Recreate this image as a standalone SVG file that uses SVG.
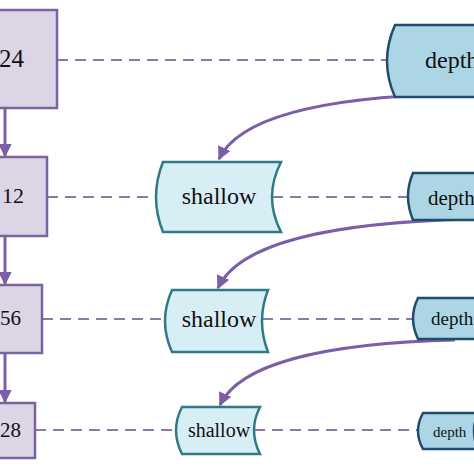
<svg xmlns="http://www.w3.org/2000/svg" width="474" height="474" viewBox="0 0 474 474">
<defs>
<style>
.box{fill:#dcd5e6;stroke:#7a64a0;stroke-width:2.5}
.sh{fill:#d8eef5;stroke:#2e7b86;stroke-width:2.5}
.dp{fill:#acd6e5;stroke:#1f4d6b;stroke-width:2.5}
.dash{stroke:#8a78a8;stroke-width:2;stroke-dasharray:11 7;fill:none}
.arr{stroke:#7b5ea7;stroke-width:3;fill:none}
text{font-family:"Liberation Serif","DejaVu Serif",serif;fill:#111}
</style>
<marker id="ah" viewBox="0 0 10 10" refX="9" refY="5" markerWidth="4.5" markerHeight="4.5" orient="auto" markerUnits="strokeWidth">
<path d="M0,0 L10,5 L0,10 z" fill="#7b5ea7"/>
</marker>
</defs>
<rect width="474" height="474" fill="#ffffff"/>
<g id="connectors">
<line class="dash" x1="57" y1="60" x2="386" y2="60"/>
<line class="dash" x1="47" y1="197" x2="155" y2="197"/>
<line class="dash" x1="272" y1="197" x2="407" y2="197"/>
<line class="dash" x1="42" y1="319" x2="164" y2="319"/>
<line class="dash" x1="262" y1="319" x2="412" y2="319"/>
<line class="dash" x1="35" y1="430" x2="175" y2="430"/>
<line class="dash" x1="254" y1="430" x2="417" y2="430"/>
<line class="arr" x1="5" y1="108" x2="5" y2="156" marker-end="url(#ah)"/>
<line class="arr" x1="5" y1="236" x2="5" y2="284" marker-end="url(#ah)"/>
<line class="arr" x1="5" y1="353" x2="5" y2="402" marker-end="url(#ah)"/>
<path class="arr" d="M452,94 C330,97 240,115 219,159" marker-end="url(#ah)"/>
<path class="arr" d="M474,219 C340,222 240,240 218,288" marker-end="url(#ah)"/>
<path class="arr" d="M455,340 C330,343 240,362 220,405" marker-end="url(#ah)"/>
</g>
<g id="n1024">
<rect class="box" x="-10" y="10" width="67" height="98"/>
<text x="24" y="67" font-size="25" text-anchor="end">24</text>
</g>
<g id="n512">
<rect class="box" x="-10" y="157" width="57" height="79"/>
<text x="24" y="203" font-size="22" text-anchor="end">12</text>
</g>
<g id="n256">
<rect class="box" x="-10" y="285" width="52" height="68"/>
<text x="21" y="325" font-size="21" text-anchor="end">56</text>
</g>
<g id="n128">
<rect class="box" x="-10" y="403" width="45" height="55"/>
<text x="21" y="437" font-size="21" text-anchor="end">28</text>
</g>
<g id="shallow1">
<path class="sh" d="M163,162 L281,162 Q263,197 281,232 L163,232 Q149,197 163,162 Z"/>
<text x="219" y="204" font-size="24" text-anchor="middle">shallow</text>
</g>
<g id="shallow2">
<path class="sh" d="M172,290 L268,290 Q256,321 268,352 L172,352 Q158,321 172,290 Z"/>
<text x="219" y="327" font-size="24" text-anchor="middle">shallow</text>
</g>
<g id="shallow3">
<path class="sh" d="M182,407 L260,407 Q248,430 260,454 L182,454 Q170,430 182,407 Z"/>
<text x="219" y="437" font-size="20" text-anchor="middle">shallow</text>
</g>
<g id="depth1">
<path class="dp" d="M395,25 L490,25 L490,97 L395,97 Q379,61 395,25 Z"/>
<text x="425" y="68" font-size="24">depth</text>
</g>
<g id="depth2">
<path class="dp" d="M413,173 L490,173 L490,220 L413,220 Q403,196 413,173 Z"/>
<text x="428" y="205" font-size="21">depth</text>
</g>
<g id="depth3">
<path class="dp" d="M418,298 L490,298 L490,339 L418,339 Q408,318 418,298 Z"/>
<text x="431" y="325" font-size="19">depth</text>
</g>
<g id="depth4">
<path class="dp" d="M423,413 L478,413 Q470,431 478,449 L423,449 Q413,431 423,413 Z"/>
<text x="433" y="437" font-size="15">depth</text>
</g>
</svg>
